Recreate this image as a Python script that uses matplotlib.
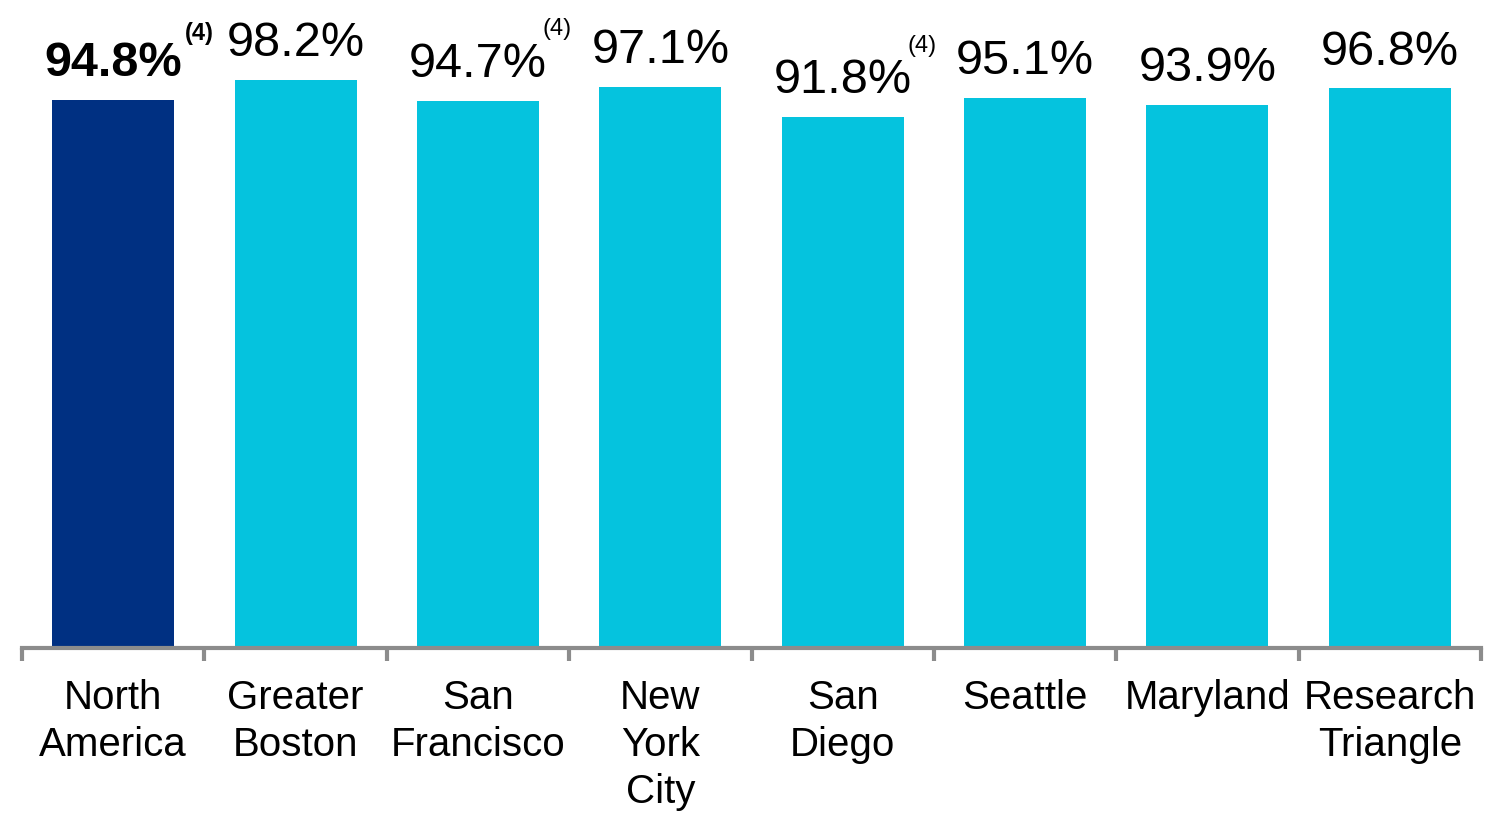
import matplotlib
matplotlib.use("Agg")
import matplotlib.pyplot as plt
import numpy as np

plt.rcParams['font.family'] = ['Liberation Sans', 'DejaVu Sans']

# occupancy by market
markets = ["North\nAmerica", "Greater\nBoston", "San\nFrancisco", "New\nYork\nCity",
           "San\nDiego", "Seattle", "Maryland", "Research\nTriangle"]
occupancy = [94.8, 98.2, 94.7, 97.1, 91.8, 95.1, 93.9, 96.8]
footnote = ["(4)", "", "(4)", "", "(4)", "", "", ""]

navy = "#003082"
cyan = "#05C3DE"
grey = "#8C8C8C"

fig = plt.figure(figsize=(15, 8.23), dpi=100)
ax = fig.add_axes([0.0147, 0.2126, 0.9726, 0.7024])

x = np.arange(len(markets))
colors = [navy] + [cyan] * (len(markets) - 1)
ax.bar(x, occupancy, width=0.67, color=colors, zorder=2)

ax.set_xlim(-0.5, len(markets) - 0.5)
ax.set_ylim(0, 100)

for i, v in enumerate(occupancy):
    bold = (i == 0)
    t = ax.annotate(f"{v:.1f}%", xy=(i, v), xytext=(0, 10), textcoords="offset points",
                    ha="center", va="bottom", fontsize=35,
                    fontweight="bold" if bold else "normal", color="black")
    if footnote[i]:
        # superscript footnote marker next to the value
        off = (2, 0) if bold else (-3, 4)
        ax.annotate(footnote[i], xy=(1.0, 0.92), xycoords=t, xytext=off,
                    textcoords="offset points", ha="left", va="bottom",
                    fontsize=17, fontweight="bold" if bold else "normal", color="black")

# axis styling
for s in ["top", "right", "left"]:
    ax.spines[s].set_visible(False)
ax.spines["bottom"].set_color(grey)
ax.spines["bottom"].set_linewidth(3)
ax.set_yticks([])
ax.set_xticks(x)
ax.set_xticklabels(markets, fontsize=29, linespacing=1.31)
ax.tick_params(axis="x", which="major", length=0, pad=22)
ax.set_xticks(np.arange(-0.5, len(markets)), minor=True)
ax.tick_params(axis="x", which="minor", length=9, width=3, color=grey, direction="out")

fig.savefig("out.png", dpi=100)
